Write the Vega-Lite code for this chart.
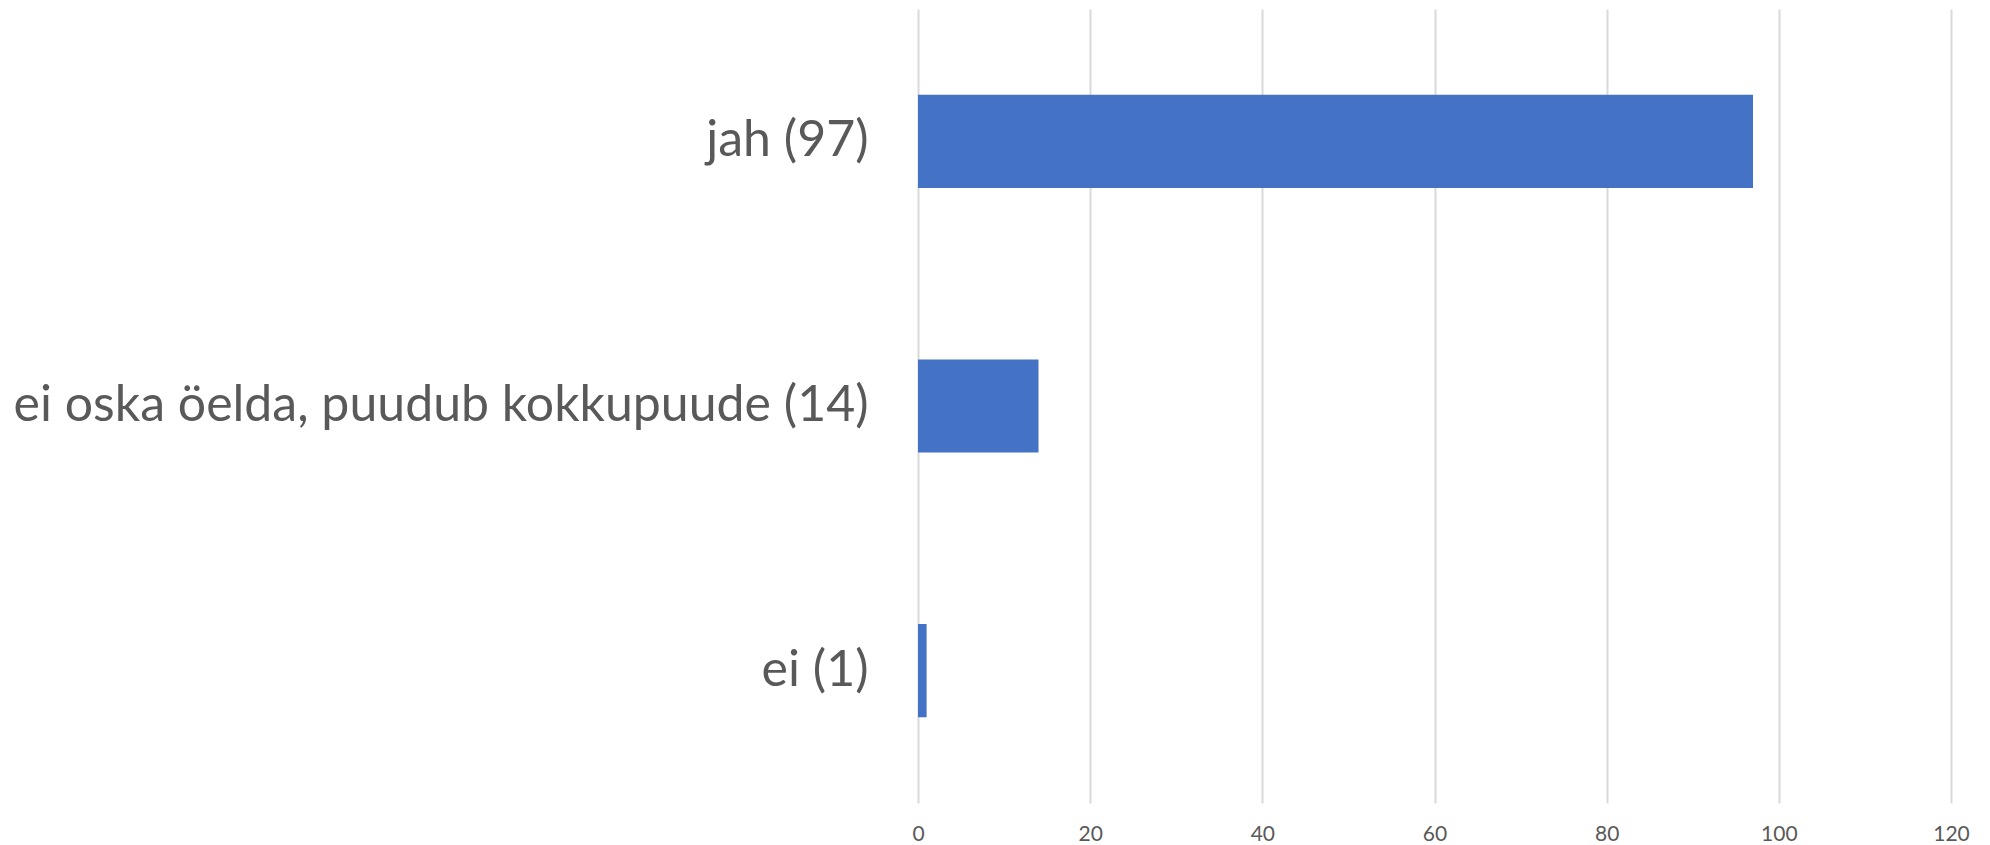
{
  "$schema": "https://vega.github.io/schema/vega-lite/v6.json",
  "autosize": "none",
  "width": 1033,
  "height": 794,
  "padding": {"left": 918, "top": 9, "right": 39, "bottom": 42},
  "background": "white",
  "config": {"view": {"stroke": null}},
  "data": {"values": [
    {"label": "jah (97)", "value": 97},
    {"label": "ei oska öelda, puudub kokkupuude (14)", "value": 14},
    {"label": "ei (1)", "value": 1}
  ]},
  "mark": {"type": "bar", "color": "#4472C4"},
  "encoding": {
    "y": {"field": "label", "type": "nominal", "sort": null,
      "scale": {"paddingInner": 0.648, "paddingOuter": 0.324},
      "axis": {"title": null, "domain": false, "ticks": false, "labelFont": "Lato", "labelFontSize": 50, "labelColor": "#595959", "labelPadding": 50, "labelLimit": 0}},
    "x": {"field": "value", "type": "quantitative",
      "scale": {"domain": [0, 120], "nice": false},
      "axis": {"title": null, "values": [0, 20, 40, 60, 80, 100, 120], "domain": false, "ticks": false, "grid": true, "gridColor": "#d9d9d9", "gridWidth": 2, "labelFont": "Lato", "labelFontSize": 21, "labelColor": "#595959", "labelPadding": 20, "labelFlush": false}}
  }
}
